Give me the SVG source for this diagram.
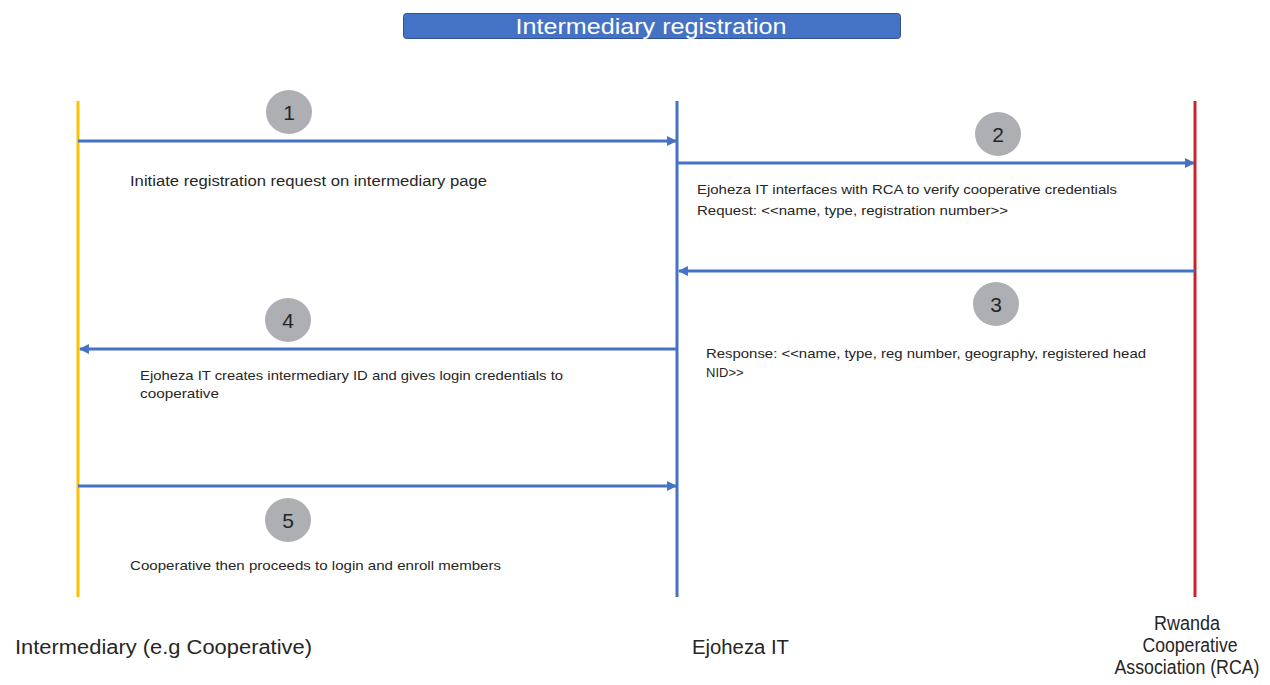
<svg xmlns="http://www.w3.org/2000/svg" width="1270" height="685" viewBox="0 0 1270 685">
<style>
  text { font-family: "Liberation Sans", Arial, sans-serif; fill: #262626; }
  .life { stroke-width: 3; fill: none; }
  .msg { stroke: #4472C4; stroke-width: 3; fill: none; marker-end: url(#ah); }
  .badge { fill: #ADAFB3; }
  .num { font-size: 21px; text-anchor: middle; fill: #262626; }
  .note { font-size: 14px; }
  .small { font-size: 13px; }
  .actor { font-size: 20px; }
</style>
<defs>
  <marker id="ah" viewBox="0 0 10 10" refX="9" refY="5" markerWidth="3.3" markerHeight="3.3" orient="auto" markerUnits="strokeWidth">
    <path d="M0,0 L10,5 L0,10 z" fill="#4472C4"/>
  </marker>
</defs>
<rect width="1270" height="685" fill="#ffffff"/>

<g id="title">
  <rect x="403.5" y="13.5" width="497" height="25" rx="3" fill="#4472C4" stroke="#2F528F" stroke-width="1"/>
  <text x="651" y="34" text-anchor="middle" font-size="22" style="fill:#ffffff" textLength="271" lengthAdjust="spacingAndGlyphs">Intermediary registration</text>
</g>

<g id="intermediary">
  <line class="life" x1="78" y1="101" x2="78" y2="597" stroke="#FFC000"/>
  <text class="actor" x="15" y="654" textLength="297" lengthAdjust="spacingAndGlyphs">Intermediary (e.g Cooperative)</text>
</g>
<g id="ejoheza">
  <line class="life" x1="677" y1="101" x2="677" y2="597" stroke="#4472C4"/>
  <text class="actor" x="692" y="654" textLength="97" lengthAdjust="spacingAndGlyphs">Ejoheza IT</text>
</g>
<g id="rca">
  <line class="life" x1="1195" y1="101" x2="1195" y2="597" stroke="#C5252B"/>
  <text class="actor" x="1187" y="630" text-anchor="middle" font-size="17" textLength="66" lengthAdjust="spacingAndGlyphs">Rwanda</text>
  <text class="actor" x="1190" y="652" text-anchor="middle" font-size="17" textLength="95" lengthAdjust="spacingAndGlyphs">Cooperative</text>
  <text class="actor" x="1187" y="674" text-anchor="middle" font-size="17" textLength="145" lengthAdjust="spacingAndGlyphs">Association (RCA)</text>
</g>

<g id="connectors">
  <line class="msg" x1="78" y1="141" x2="676" y2="141"/>
  <line class="msg" x1="677" y1="163" x2="1194" y2="163"/>
  <line class="msg" x1="1195" y1="271" x2="679" y2="271"/>
  <line class="msg" x1="677" y1="349" x2="80" y2="349"/>
  <line class="msg" x1="78" y1="486" x2="676" y2="486"/>
</g>

<g id="step1">
  <ellipse class="badge" cx="289" cy="112" rx="23" ry="22"/>
  <text class="num" x="289" y="120">1</text>
  <text class="note" x="130" y="186" textLength="357" lengthAdjust="spacingAndGlyphs">Initiate registration request on intermediary page</text>
</g>
<g id="step2">
  <ellipse class="badge" cx="998" cy="134" rx="23" ry="22"/>
  <text class="num" x="998" y="142">2</text>
  <text class="small" x="697" y="194" textLength="420" lengthAdjust="spacingAndGlyphs">Ejoheza IT interfaces with RCA to verify cooperative credentials</text>
  <text class="small" x="697" y="215" textLength="311" lengthAdjust="spacingAndGlyphs">Request: &lt;&lt;name, type, registration number&gt;&gt;</text>
</g>
<g id="step3">
  <ellipse class="badge" cx="996" cy="304" rx="23" ry="22"/>
  <text class="num" x="996" y="312">3</text>
  <text class="small" x="706" y="358" textLength="440" lengthAdjust="spacingAndGlyphs">Response: &lt;&lt;name, type, reg number, geography, registered head</text>
  <text class="small" x="706" y="377">NID&gt;&gt;</text>
</g>
<g id="step4">
  <ellipse class="badge" cx="288" cy="320" rx="23" ry="22"/>
  <text class="num" x="288" y="328">4</text>
  <text class="small" x="140" y="380" textLength="423" lengthAdjust="spacingAndGlyphs">Ejoheza IT creates intermediary ID and gives login credentials to</text>
  <text class="small" x="140" y="398" textLength="79" lengthAdjust="spacingAndGlyphs">cooperative</text>
</g>
<g id="step5">
  <ellipse class="badge" cx="288" cy="520" rx="23" ry="22"/>
  <text class="num" x="288" y="528">5</text>
  <text class="small" x="130" y="570" textLength="371" lengthAdjust="spacingAndGlyphs">Cooperative then proceeds to login and enroll members</text>
</g>
</svg>
